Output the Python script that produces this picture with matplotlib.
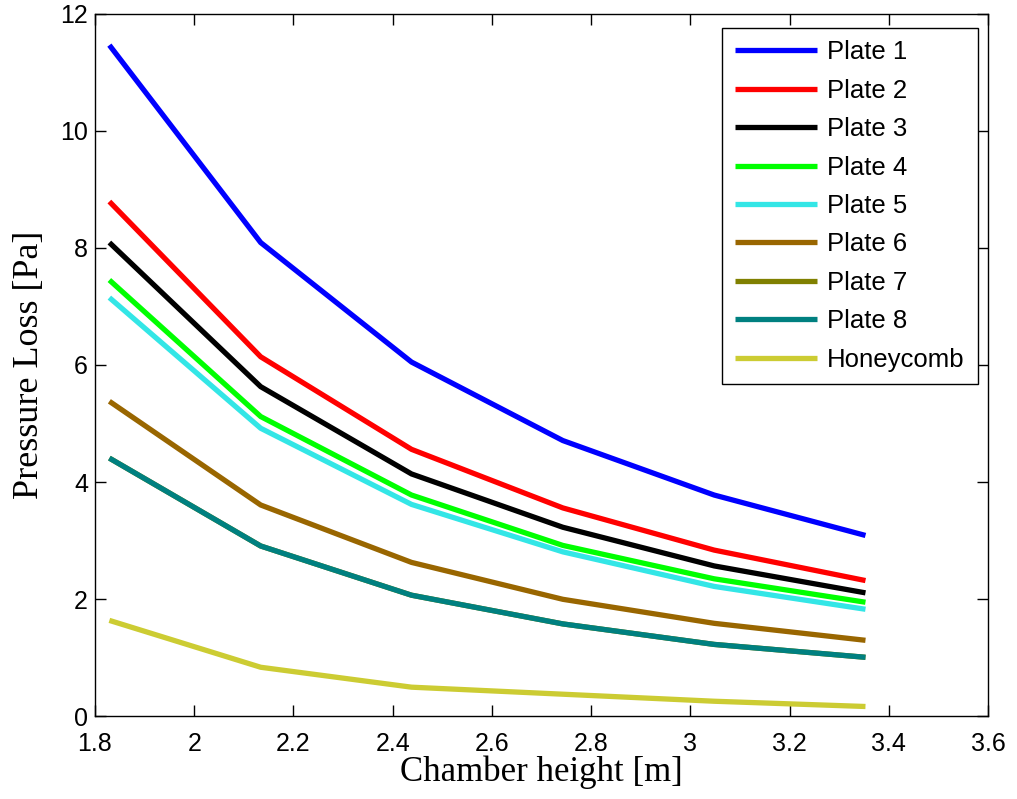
#!/usr/bin/env python3
"""
Pressure loss vs chamber height for the perforated plates and honeycomb.
"""

import numpy as np
import matplotlib
matplotlib.use('Agg')
import matplotlib.pyplot as plt

# ===============================
# Data
# ===============================
height = [1.829, 2.134, 2.438, 2.743, 3.048, 3.353]

plate1 = [11.46, 8.09, 6.05, 4.71, 3.78, 3.09]
plate2 = [8.79, 6.14, 4.56, 3.56, 2.84, 2.32]
plate3 = [8.09, 5.63, 4.14, 3.23, 2.57, 2.11]
plate4 = [7.45, 5.12, 3.78, 2.92, 2.35, 1.95]
plate5 = [7.15, 4.92, 3.62, 2.81, 2.22, 1.83]
plate6 = [5.38, 3.61, 2.63, 2.00, 1.59, 1.30]
plate7 = [4.41, 2.91, 2.07, 1.58, 1.23, 1.01]   # hidden under Plate 8
plate8 = [4.41, 2.91, 2.07, 1.58, 1.23, 1.01]
honeycomb = [1.64, 0.84, 0.50, 0.38, 0.26, 0.17]

labels = ['Plate 1', 'Plate 2', 'Plate 3', 'Plate 4', 'Plate 5',
          'Plate 6', 'Plate 7', 'Plate 8', 'Honeycomb']
series = [plate1, plate2, plate3, plate4, plate5,
          plate6, plate7, plate8, honeycomb]
colors = ['#0000ff', '#ff0000', '#000000', '#00ff00', '#33e6e6',
          '#996600', '#808000', '#008080', '#cccc33']

# ===============================
# Plot
# ===============================
fig = plt.figure(figsize=(10.17, 7.99), dpi=100)
ax = fig.add_axes([0.0934, 0.1033, 0.8781, 0.8798])

for vals, lab, col in zip(series, labels, colors):
    ax.plot(height, vals, color=col, linewidth=3.8, label=lab,
            solid_joinstyle='miter', solid_capstyle='butt')

ax.set_xlim(1.8, 3.6)
ax.set_ylim(0, 12)
ax.set_xticks(np.arange(1.8, 3.61, 0.2))
ax.set_xticklabels(['1.8', '2', '2.2', '2.4', '2.6', '2.8', '3', '3.2', '3.4', '3.6'])
ax.set_yticks(np.arange(0, 13, 2))

for sp in ax.spines.values():
    sp.set_linewidth(1.0)

ax.tick_params(axis='both', direction='in', length=8, width=1.0,
               top=True, right=True, labelsize=18)
ax.tick_params(axis='x', pad=11)
ax.tick_params(axis='y', pad=5)
for t in ax.get_xticklabels() + ax.get_yticklabels():
    t.set_fontfamily('Liberation Sans')

ax.set_xlabel('Chamber height [m]', fontsize=25, family='Liberation Serif',
              labelpad=0)
ax.set_ylabel('Pressure Loss [Pa]', fontsize=26, family='Liberation Serif',
              labelpad=10)

leg = ax.legend(loc='upper right', bbox_to_anchor=(0.9885, 0.98),
                borderaxespad=0, fancybox=False, framealpha=1,
                edgecolor='black', handlelength=3.2, handletextpad=0.4,
                labelspacing=0.56, borderpad=0.5,
                prop={'family': 'Liberation Sans', 'size': 18.5})
leg.get_frame().set_linewidth(1.0)

fig.savefig('out.png', dpi=100)
